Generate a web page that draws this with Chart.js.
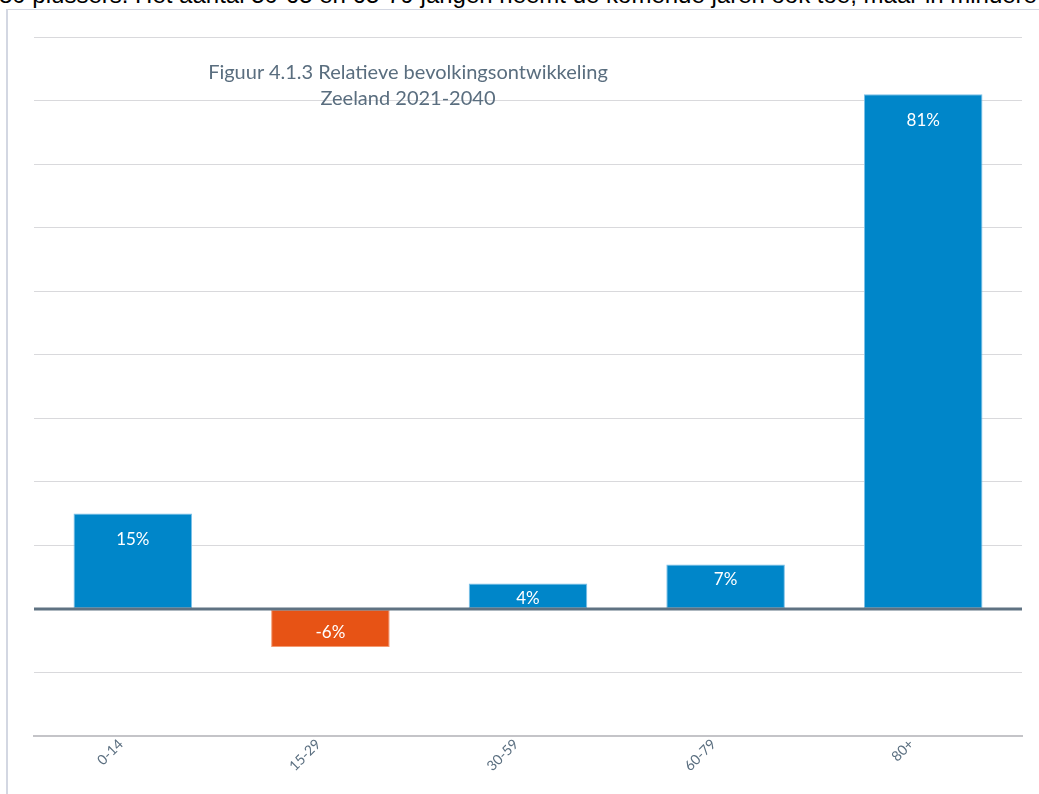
<!DOCTYPE html>
<html>
<head>
<meta charset="utf-8">
<script src="https://cdn.jsdelivr.net/npm/chart.js@4.4.1/dist/chart.umd.min.js"></script>
<style>
  html, body { margin: 0; padding: 0; background: #fff; width: 1039px; height: 794px; overflow: hidden; position: relative; }
  #topline { position: absolute; left: -1px; top: -19px; font-family: "Liberation Sans", Arial, sans-serif; font-size: 24px; line-height: 28px; color: #000; white-space: nowrap; }
  #frame { position: absolute; left: 6px; top: 9px; width: 1100px; height: 900px; border-left: 2px solid #d3d7e2; border-top: 1px solid #d3d7e2; background: #fff; }
  #wrap { position: absolute; left: 8px; top: 10px; width: 1031px; height: 784px; }
  #title { position: absolute; left: 158px; top: 58px; width: 500px; text-align: center; font-family: Lato, "Open Sans", sans-serif; font-size: 20px; line-height: 26px; color: #5a6e7f; pointer-events: none; }
</style>
</head>
<body>
<div id="topline">80 plussers. Het aantal 50-65 en 65-79 jarigen neemt de komende jaren ook toe, maar in mindere</div>
<div id="frame"></div>
<div id="wrap"><canvas id="c"></canvas></div>
<div id="title">Figuur 4.1.3 Relatieve bevolkingsontwikkeling<br>Zeeland 2021-2040</div>
<script>
const categories = ["0-14", "15-29", "30-59", "60-79", "80+"];
const values = [15, -6, 4, 7, 81];
const valueLabels = ["15%", "-6%", "4%", "7%", "81%"];
const yTicks = [-20, -10, 0, 10, 20, 30, 40, 50, 60, 70, 80, 90];

const BLUE = "#0086c9", BLUE_EDGE = "#7cc0e8";
const ORANGE = "#e75315", ORANGE_EDGE = "#f49a70";

const labelPlugin = {
  id: "valueLabels",
  afterDatasetsDraw(chart) {
    const ctx = chart.ctx;
    const y = chart.scales.y;
    const area = chart.chartArea;
    const y0 = y.getPixelForValue(0);
    ctx.save();
    ctx.strokeStyle = "#5f7282";
    ctx.lineWidth = 3;
    ctx.beginPath();
    ctx.moveTo(area.left, y0);
    ctx.lineTo(area.right, y0);
    ctx.stroke();
    const meta = chart.getDatasetMeta(0);
    ctx.font = "17px Lato, 'Open Sans', sans-serif";
    ctx.fillStyle = "#ffffff";
    ctx.textAlign = "center";
    ctx.textBaseline = "middle";
    meta.data.forEach((bar, i) => {
      const v = values[i];
      const h = Math.abs(bar.base - bar.y);
      const off = h >= 60 ? 26 : Math.min(15, h / 2 + 3);
      const ty = v >= 0 ? bar.y + off : bar.y - off;
      ctx.fillText(valueLabels[i], bar.x, ty);
    });
    ctx.restore();
  }
};

new Chart(document.getElementById("c"), {
  type: "bar",
  data: {
    labels: categories,
    datasets: [{
      data: values,
      backgroundColor: values.map(v => v >= 0 ? BLUE : ORANGE),
      borderColor: values.map(v => v >= 0 ? BLUE_EDGE : ORANGE_EDGE),
      borderWidth: 1,
      borderSkipped: false,
      barPercentage: 0.6,
      categoryPercentage: 1.0
    }]
  },
  options: {
    responsive: true,
    maintainAspectRatio: false,
    animation: false,
    events: [],
    layout: { padding: { left: 26, top: 27, right: 17, bottom: 0 } },
    plugins: { legend: { display: false }, tooltip: { enabled: false }, title: { display: false } },
    scales: {
      x: {
        grid: { display: false, drawTicks: false },
        border: { display: true, color: "#c4c4c8", width: 2 },
        ticks: {
          maxRotation: 45, minRotation: 45, autoSkip: false,
          labelOffset: -12, padding: 0,
          color: "#5b6f80",
          font: { family: "Lato, 'Open Sans', sans-serif", size: 14 }
        },
        afterFit(s) { s.height = 58; }
      },
      y: {
        min: -20, max: 90,
        afterBuildTicks(s) { s.ticks = yTicks.map(v => ({ value: v })); },
        ticks: { display: false },
        border: { display: false },
        grid: { color: "#d9d9dc", lineWidth: 1, drawTicks: false },
        afterFit(s) { s.width = 0; }
      }
    }
  },
  plugins: [labelPlugin]
});
</script>
</body>
</html>
